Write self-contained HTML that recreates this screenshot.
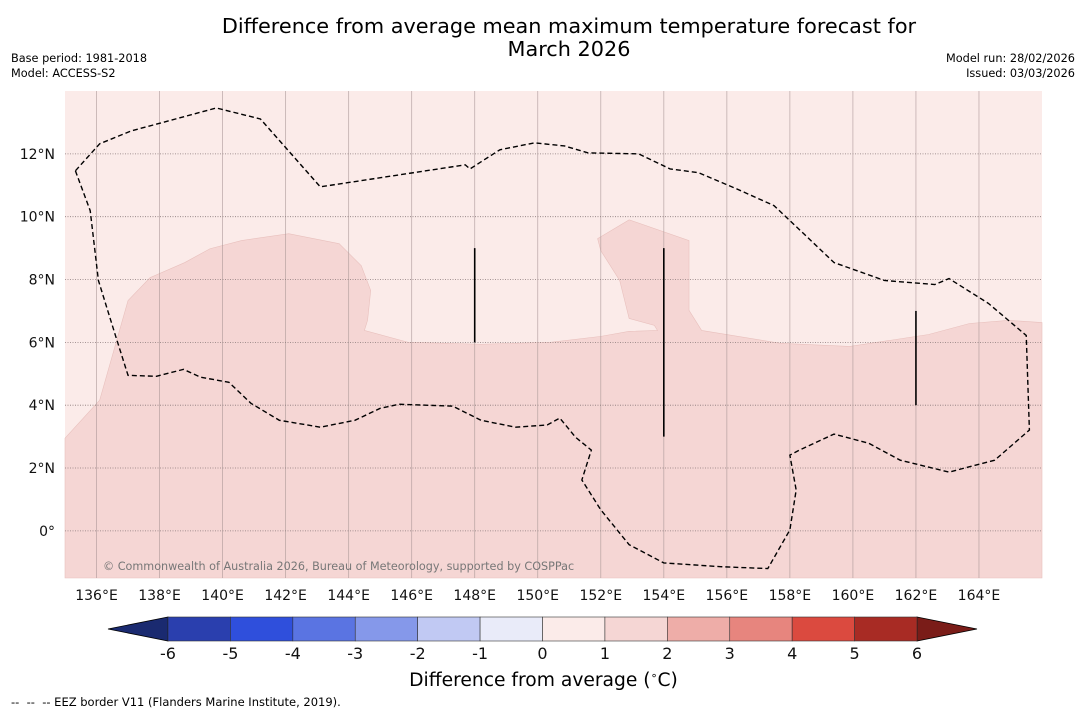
<!DOCTYPE html>
<html><head><meta charset="utf-8"><style>
body{margin:0;background:#fff;width:1085px;height:713px;overflow:hidden;font-family:"Liberation Sans","DejaVu Sans",sans-serif}
svg text{font-family:"DejaVu Sans","Liberation Sans",sans-serif}
</style></head><body>
<svg id="c" width="1085" height="713"></svg>
<script>
const lonTicks=[136,138,140,142,144,146,148,150,152,154,156,158,160,162,164];
const latTicks=[0,2,4,6,8,10,12];
const cbLevels=[-6,-5,-4,-3,-2,-1,0,1,2,3,4,5,6];
const cbColors=["#2a3fae","#2f4fdc","#5a74e2","#8598ea","#c1c9f3","#e9ebf9","#fbebe9","#f5d6d4","#eeada8","#e7857e","#db4a3f","#a82b24"];
const regionLon=[135.0,136.1,137.0,137.7,138.8,139.6,140.6,142.1,143.7,144.4,144.7,144.6,144.5,145.9,148.2,150.4,152.0,152.9,153.8,153.7,152.9,152.6,152.0,151.9,152.9,154.8,154.8,155.2,157.7,159.9,162.4,163.7,164.95,166,166,135];
const regionLat=[2.95,4.16,7.33,8.06,8.54,8.98,9.24,9.46,9.14,8.44,7.65,6.70,6.38,6.0,5.94,6.0,6.19,6.35,6.38,6.54,6.76,7.97,8.92,9.3,9.9,9.24,7.02,6.38,5.97,5.87,6.25,6.6,6.7,6.63,-1.5,-1.5];
const eezLon=[135.33,135.8,136.06,136.6,137.0,137.9,138.76,139.3,140.2,140.9,141.8,143.1,144.2,145.0,145.6,147.3,148.2,149.3,150.3,150.7,151.2,151.7,151.4,152.0,152.9,154.0,155.8,157.3,158.0,158.2,158.0,158.3,159.4,160.5,161.5,163.05,164.5,165.6,165.5,164.3,163.05,162.6,161.0,159.4,158.5,157.5,156.3,155.1,154.2,153.2,151.6,150.85,149.9,148.8,147.85,147.7,143.1,141.2,139.8,138.03,137.1,136.1,135.33];
const eezLat=[11.46,10.19,7.97,6.22,4.95,4.92,5.14,4.89,4.73,4.06,3.52,3.3,3.52,3.9,4.03,3.97,3.52,3.3,3.37,3.59,2.98,2.57,1.62,0.67,-0.44,-1.02,-1.14,-1.2,0.03,1.3,2.41,2.57,3.08,2.79,2.25,1.87,2.25,3.21,6.22,7.24,8.03,7.84,7.97,8.54,9.4,10.35,10.89,11.4,11.52,12.0,12.03,12.25,12.35,12.13,11.52,11.65,10.95,13.11,13.46,12.98,12.73,12.32,11.46];
const barLon=[148,154,162];const barLat0=[6,3,4];const barLat1=[9,9,7];
const NS="http://www.w3.org/2000/svg";const svg=document.getElementById('c');
const X0=65,X1=1042,Y0=91,Y1=578,LON0=135,LON1=166,LAT0=-1.5,LAT1=14;
const xs=l=>X0+(l-LON0)/(LON1-LON0)*(X1-X0);
const ys=l=>Y1-(l-LAT0)/(LAT1-LAT0)*(Y1-Y0);
function mk(t,a,p){const e=document.createElementNS(NS,t);for(const k in a)e.setAttribute(k,a[k]);(p||svg).appendChild(e);return e;}
let e;
e=mk('rect',{x:X0,y:Y0,width:X1-X0,height:Y1-Y0,fill:"#fbebe9"});


e=mk('polygon',{points:regionLon.map((l,i)=>xs(l)+","+ys(regionLat[i])).join(" "),fill:"#f5d6d4",stroke:"#e8c0bd","stroke-width":0.6});


lonTicks.forEach(l=>{
 e=mk('line',{x1:xs(l),x2:xs(l),y1:Y0,y2:Y1,stroke:"#a89595","stroke-width":0.8,opacity:0.7});
 
 
 e=mk('text',{x:xs(l),y:600,"text-anchor":"middle","font-size":14,fill:"#111"});e.textContent=l+"°E";
 
 
});
latTicks.forEach(l=>{
 e=mk('line',{x1:X0,x2:X1,y1:ys(l),y2:ys(l),stroke:"#8a7a7a","stroke-width":0.8,"stroke-dasharray":"1,1.5"});
 
 
 e=mk('text',{x:55,y:ys(l)+5,"text-anchor":"end","font-size":14,fill:"#111"});e.textContent=l===0?"0°":l+"°N";
 
 
});
e=mk('polyline',{points:eezLon.map((l,i)=>xs(l)+","+ys(eezLat[i])).join(" "),fill:"none",stroke:"#000","stroke-width":1.4,"stroke-dasharray":"5,3"});


barLon.forEach((l,i)=>{
 e=mk('line',{x1:xs(l),x2:xs(l),y1:ys(barLat0[i]),y2:ys(barLat1[i]),stroke:"#000","stroke-width":1.6});
 
 
});
e=mk('text',{x:103,y:570,"font-size":11.2,fill:"#777"});e.textContent="© Commonwealth of Australia 2026, Bureau of Meteorology, supported by COSPPac";


const CB0=168,CB1=917,CBY=617,CBH=24;
const cx=v=>CB0+(v-cbLevels[0])/(cbLevels[cbLevels.length-1]-cbLevels[0])*(CB1-CB0);
e=mk('polygon',{points:`${CB0},${CBY} 108,${CBY+CBH/2} ${CB0},${CBY+CBH}`,fill:"#1a2a70",stroke:"#000","stroke-width":0.8});


e=mk('polygon',{points:`${CB1},${CBY} 977,${CBY+CBH/2} ${CB1},${CBY+CBH}`,fill:"#7a1c18",stroke:"#000","stroke-width":0.8});


cbColors.forEach((c,i)=>{
 e=mk('rect',{x:cx(cbLevels[i]),y:CBY,width:cx(cbLevels[i+1])-cx(cbLevels[i]),height:CBH,fill:c,stroke:"#333","stroke-width":0.6});
 
 
});
cbLevels.forEach(v=>{
 e=mk('text',{x:cx(v),y:659,"text-anchor":"middle","font-size":16,fill:"#111"});e.textContent=v;
 
 
});
</script>
<div style="position:absolute;left:0;width:1138px;top:15px;text-align:center;font:20.8px 'DejaVu Sans','Liberation Sans',sans-serif;line-height:23px;color:#000">Difference from average mean maximum temperature forecast for<br>March 2026</div>
<div style="position:absolute;left:11px;top:51px;font:11.3px 'DejaVu Sans',sans-serif;line-height:15px">Base period: 1981-2018<br>Model: ACCESS-S2</div>
<div style="position:absolute;right:10px;top:51px;text-align:right;font:11.3px 'DejaVu Sans',sans-serif;line-height:15px">Model run: 28/02/2026<br>Issued: 03/03/2026</div>
<div style="position:absolute;left:0;width:1085px;top:669px;text-align:center;font:18.7px 'DejaVu Sans',sans-serif;padding-left:1px">Difference from average (<sup style="font-size:11px">∘</sup>C)</div>
<div style="position:absolute;left:11px;top:695px;font:11.5px 'DejaVu Sans',sans-serif">-- &nbsp;-- &nbsp;-- EEZ border V11 (Flanders Marine Institute, 2019).</div>
</body></html>
